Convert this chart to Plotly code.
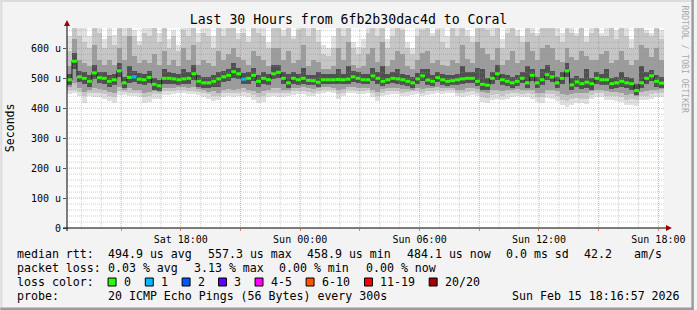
import plotly.graph_objects as go
import pandas as pd
import numpy as np

# ---------------- data ----------------
title_text = "Last 30 Hours from 6fb2b30dac4d to Coral"
t_start = "2026-02-14 12:16:57"
t_end = "2026-02-15 18:16:57"
bin_minutes = 15

median = [495,557,505,500,490,518,502,500,490,495,525,485,503,505,497,495,503,480,475,500,500,498,495,498,
          500,515,490,485,485,490,498,505,510,522,515,497,500,510,490,500,495,515,520,500,485,500,495,500,
          493,492,487,495,495,495,496,495,497,505,500,495,495,508,500,490,495,500,498,495,490,485,498,508,
          494,490,502,495,490,492,495,498,500,500,490,480,477,500,515,495,490,485,490,500,485,510,485,495,
          512,505,485,500,525,478,488,482,487,482,500,495,495,482,485,490,485,482,459,485,500,508,490,484]

loss = [0]*13 + [1] + [0]*21 + [1] + [0]*84

ping_min = [449,452,440,416,440,438,436,432,425,416,445,443,440,440,436,416,420,430,432,445,444,448,450,452,
            448,446,444,436,430,425,426,438,440,436,440,442,438,428,418,422,436,440,438,436,440,445,446,448,
            442,440,446,452,454,450,432,440,450,452,448,446,450,438,424,440,444,448,446,440,442,444,446,440,
            444,446,450,448,452,450,440,436,442,444,440,420,416,428,430,426,432,438,440,436,438,430,420,418,
            434,430,424,410,405,412,418,416,414,430,436,438,428,426,424,420,410,412,408,426,428,430,436,438]

ping_max = [640,700,700,690,640,700,700,630,700,645,700,700,700,660,625,700,700,700,650,700,630,660,610,700,
            700,700,650,700,700,640,700,690,700,700,650,700,640,700,700,680,620,700,700,660,700,640,700,700,
            700,700,660,610,600,640,700,690,700,620,605,630,700,680,700,700,630,680,700,700,620,600,700,700,
            700,650,700,700,640,700,690,700,660,640,700,700,700,680,700,630,700,700,660,640,700,700,650,700,
            700,700,680,650,700,700,650,700,640,680,700,650,700,700,660,700,690,630,700,700,660,650,700,660]

light_lo = [460,462,455,440,452,452,450,448,442,436,456,455,452,452,450,438,440,446,446,456,456,458,460,462,
            458,458,455,450,446,442,442,450,452,450,452,454,450,444,436,440,450,452,452,450,452,456,456,458,
            454,452,456,460,462,460,448,452,460,462,458,456,460,450,440,452,456,458,456,452,454,456,458,452,
            456,456,460,458,460,460,452,450,454,456,452,438,435,444,446,442,446,450,452,448,450,446,438,436,
            448,446,440,428,424,430,434,432,432,444,450,450,442,440,440,436,428,430,428,440,442,446,450,452]

light_hi = [590,668,640,620,600,668,650,600,640,610,668,640,668,640,610,650,640,668,620,668,600,640,590,660,
            640,668,620,650,640,600,668,640,668,668,630,650,620,668,650,640,600,668,668,640,668,630,660,668,
            640,668,620,580,575,600,668,640,668,600,580,600,650,668,640,668,600,640,668,660,600,580,640,660,
            668,640,660,620,600,668,640,668,640,620,668,668,660,640,668,600,650,668,640,620,668,650,640,668,
            668,668,640,620,668,650,640,668,620,650,668,640,640,668,630,668,640,600,668,668,650,640,668,630]

mid_lo = [472,485,468,455,462,466,465,462,455,452,470,460,466,462,462,452,455,458,455,468,468,468,470,470,
          468,470,464,460,455,456,452,462,465,462,465,468,462,458,450,456,462,466,466,460,462,468,468,470,
          466,464,466,470,470,468,460,464,470,472,468,466,468,462,455,464,466,468,468,464,464,462,468,465,
          466,466,470,468,468,468,462,462,466,466,464,455,452,460,462,458,460,462,464,460,460,460,452,452,
          462,460,456,448,445,448,452,450,450,458,462,462,456,454,454,452,445,446,440,455,458,462,462,464]

mid_hi = [540,630,560,550,540,610,560,545,560,545,600,560,640,575,550,560,550,580,545,590,545,560,540,600,
          560,610,545,560,550,540,590,560,580,600,570,560,545,590,575,560,540,600,600,560,590,550,560,610,
          540,560,555,530,530,540,600,560,620,545,535,540,580,600,555,620,540,560,590,580,540,530,560,585,
          590,550,560,545,540,560,550,610,565,550,620,600,580,560,600,545,560,590,550,560,620,590,560,600,
          610,600,560,555,600,570,560,590,575,560,560,580,590,550,560,590,560,545,560,610,600,570,600,560]

core_lo = [478,530,488,482,472,498,485,482,472,478,505,468,485,486,480,477,485,462,456,482,482,480,478,480,
           482,496,472,466,466,470,470,488,492,502,497,480,482,490,472,482,478,497,502,482,468,482,478,482,
           476,476,472,480,480,480,480,480,482,488,484,480,480,490,482,474,480,484,482,478,474,468,482,490,
           478,474,486,478,474,476,478,480,484,484,474,462,460,482,496,478,474,468,474,484,468,492,468,478,
           494,488,466,482,504,460,470,464,468,462,482,478,478,464,468,472,466,462,444,466,482,490,472,466]

core_hi = [515,585,525,520,510,545,522,520,510,515,550,505,540,525,517,515,523,500,495,530,520,518,515,530,
           520,545,510,505,505,510,520,525,530,550,535,517,520,535,510,520,515,545,545,520,515,520,515,535,
           512,512,520,515,515,515,530,515,540,525,520,515,515,535,520,540,515,520,530,515,510,505,518,530,
           530,510,522,515,510,512,515,540,520,520,535,530,500,520,545,515,510,505,510,520,540,530,505,530,
           545,525,505,520,550,500,508,502,530,502,520,515,530,502,505,520,505,502,480,540,520,528,510,504]

y_max = 668
y_ticks = [0, 100, 200, 300, 400, 500, 600]
y_ticklabels = ["0", "100 u", "200 u", "300 u", "400 u", "500 u", "600 u"]
x_ticklabels = ["", "Sat 18:00", "", "Sun 00:00", "", "Sun 06:00", "", "Sun 12:00", "", "Sun 18:00"]

loss_labels = ["0", "1", "2", "3", "4-5", "6-10", "11-19", "20/20"]
loss_colors = ["#26ff00", "#00b8ff", "#0059ff", "#5e00ff", "#ff00fe", "#ff5500", "#ff0000", "#a10000"]

stats_rtt = ["median rtt:", "494.9 us avg", "557.3 us max", "458.9 us min", "484.1 us now",
             "0.0 ms sd", "42.2", "am/s"]
stats_loss = ["packet loss:", "0.03 % avg", "3.13 % max", "0.00 % min", "0.00 % now"]
probe_text = ["probe:", "20 ICMP Echo Pings (56 Bytes) every 300s", "Sun Feb 15 18:16:57 2026"]

# ---------------- geometry ----------------
W, H = 697, 310
L, T, PW, PH = 67, 28, 600, 200
MONO = "DejaVu Sans Mono"


def px(x):
    return (x - L) / PW


def py(y):
    return (T + PH - y) / PH


n = len(median)
starts = pd.date_range(t_start, periods=n, freq=f"{bin_minutes}min")
centers = starts + pd.Timedelta(minutes=bin_minutes / 2)
edges = list(starts) + [pd.Timestamp(t_end)]
bw = bin_minutes * 60 * 1000

fig = go.Figure()

# smoke layers
layers = [(ping_min, ping_max, "#e0e0e0"),
          (light_lo, light_hi, "#c6c6c6"),
          (mid_lo, mid_hi, "#9c9c9c"),
          (core_lo, core_hi, "#505050")]
for lo, hi, col in layers:
    lo = np.array(lo, float)
    hi = np.array(hi, float)
    fig.add_trace(go.Bar(x=centers, y=hi - lo, base=lo, width=bw,
                         marker=dict(color=col, line=dict(width=0)),
                         hoverinfo="skip", showlegend=False))

# grid lines (drawn over the smoke, like rrdtool)
major_t = pd.date_range("2026-02-14 15:00", "2026-02-15 18:00", freq="3h")
minor_t = [t for t in pd.date_range("2026-02-14 13:00", "2026-02-15 18:00", freq="1h") if t not in set(major_t)]
minor_y = [v for v in range(20, y_max, 20) if v % 100 != 0]
major_y = [v for v in range(100, y_max, 100)]


def vlines(ts):
    xs, ys = [], []
    for t in ts:
        xs += [t, t, None]
        ys += [0, y_max, None]
    return xs, ys


def hlines(vs):
    xs, ys = [], []
    for v in vs:
        xs += [pd.Timestamp(t_start), pd.Timestamp(t_end), None]
        ys += [v, v, None]
    return xs, ys


for (xs, ys), col in [(vlines(minor_t), "rgba(150,150,150,0.45)"),
                      (hlines(minor_y), "rgba(150,150,150,0.45)"),
                      (vlines(major_t), "rgba(255,95,95,0.6)"),
                      (hlines(major_y), "rgba(255,95,95,0.6)")]:
    fig.add_trace(go.Scatter(x=xs, y=ys, mode="lines",
                             line=dict(color=col, width=1, dash="1px,1px"),
                             hoverinfo="skip", showlegend=False))

# median connecting line
fig.add_trace(go.Scatter(x=edges, y=list(median) + [median[-1]], mode="lines",
                         line=dict(color="#202020", width=1, shape="hv"),
                         hoverinfo="skip", showlegend=False))

# median dashes coloured by loss
for k, col in enumerate(loss_colors):
    xs, ys = [], []
    for i in range(n):
        if loss[i] == k:
            xs += [edges[i], edges[i + 1], None]
            ys += [median[i], median[i], None]
    if xs:
        fig.add_trace(go.Scatter(x=xs, y=ys, mode="lines",
                                 line=dict(color=col, width=3),
                                 hoverinfo="skip", showlegend=False))

# ---------------- annotations ----------------
ann = []


def text(x, y, s, size=11.6, color="#000000", anchor="left", angle=0):
    ann.append(dict(x=px(x), y=py(y), xref="paper", yref="paper", text=s, showarrow=False,
                    xanchor=anchor, yanchor="middle", textangle=angle, borderpad=0,
                    font=dict(family=MONO, size=size, color=color)))


rtt_x = [16, 107.3, 207.3, 307.5, 407.3, 507.3, 586, 636]
for x, s in zip(rtt_x, stats_rtt):
    text(x, 254, s)
loss_x = [16, 107.3, 193.3, 279.3, 366]
for x, s in zip(loss_x, stats_loss):
    text(x, 268, s)
text(16, 282, "loss color:")
box_x = [108.3, 145.7, 182.7, 219.3, 256, 307.3, 366, 431]
shapes = []
for bx, lab, col in zip(box_x, loss_labels, loss_colors):
    shapes.append(dict(type="rect", xref="paper", yref="paper", x0=px(bx), x1=px(bx + 8),
                       y0=py(286), y1=py(278), fillcolor=col, line=dict(color="#000000", width=1)))
    text(bx + 15, 282, lab)
probe_x = [16, 107.3, 513.3]
for x, s in zip(probe_x, probe_text):
    text(x, 295.5, s)

text(10, 128, "Seconds", size=11.6, anchor="center", angle=-90)
text(688.5, 59, "RRDTOOL / TOBI OETIKER", size=8.1, color="#aaaaaa", anchor="center", angle=90)

# axis extension & arrows
shapes.append(dict(type="line", xref="paper", yref="paper", x0=px(63), x1=px(671), y0=py(228), y1=py(228),
                   line=dict(color="#000000", width=1)))
shapes.append(dict(type="line", xref="paper", yref="paper", x0=px(67), x1=px(67), y0=py(231), y1=py(25),
                   line=dict(color="#000000", width=1)))
shapes.append(dict(type="path", xref="paper", yref="paper",
                   path=f"M {px(64)} {py(26)} L {px(70)} {py(26)} L {px(67)} {py(20)} Z",
                   fillcolor="#990000", line=dict(color="#990000", width=0)))
shapes.append(dict(type="path", xref="paper", yref="paper",
                   path=f"M {px(669)} {py(225)} L {px(669)} {py(231)} L {px(675)} {py(228)} Z",
                   fillcolor="#990000", line=dict(color="#990000", width=0)))
# 3D frame
shapes.append(dict(type="rect", xref="paper", yref="paper", x0=px(0), x1=px(697), y0=py(2), y1=py(0),
                   fillcolor="#dcdcdc", line=dict(width=0)))
shapes.append(dict(type="rect", xref="paper", yref="paper", x0=px(0), x1=px(2), y0=py(310), y1=py(0),
                   fillcolor="#dcdcdc", line=dict(width=0)))
shapes.append(dict(type="rect", xref="paper", yref="paper", x0=px(0), x1=px(697), y0=py(310), y1=py(307.5),
                   fillcolor="#9c9c9c", line=dict(width=0)))
shapes.append(dict(type="rect", xref="paper", yref="paper", x0=px(694.5), x1=px(697), y0=py(310), y1=py(0),
                   fillcolor="#9c9c9c", line=dict(width=0)))

fig.update_layout(
    width=W, height=H,
    margin=dict(l=L, r=W - L - PW, t=T, b=H - T - PH, pad=0),
    paper_bgcolor="#f3f3f3", plot_bgcolor="#ffffff",
    barmode="overlay", bargap=0,
    showlegend=False,
    title=dict(text=title_text, x=0.5, xref="container", xanchor="center",
               y=1 - 19 / H, yref="container", yanchor="middle",
               font=dict(family=MONO, size=13.2, color="#000000")),
    xaxis=dict(type="date", range=[t_start, t_end], showgrid=False, zeroline=False,
               tickmode="array", tickvals=list(major_t), ticktext=x_ticklabels,
               ticks="outside", ticklen=2, tickcolor="#ff7070", showline=False,
               tickfont=dict(family=MONO, size=10, color="#000000"), fixedrange=True),
    yaxis=dict(range=[0, y_max], showgrid=False, zeroline=False,
               tickmode="array", tickvals=y_ticks, ticktext=y_ticklabels,
               ticks="outside", ticklen=3, tickcolor="#555555", showline=False,
               tickfont=dict(family=MONO, size=10, color="#000000"), fixedrange=True),
    annotations=ann,
    shapes=shapes,
)

fig.write_html("out.html")
